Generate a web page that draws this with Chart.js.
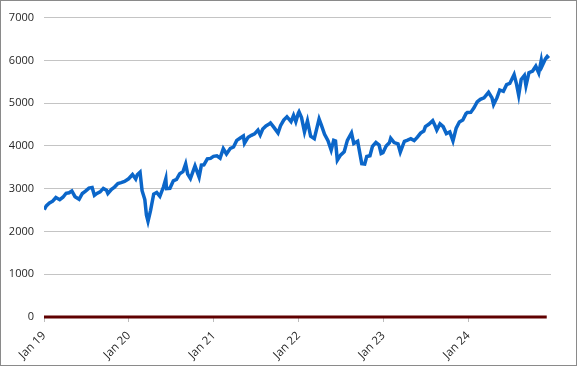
<!DOCTYPE html>
<html>
<head>
<meta charset="utf-8">
<script src="https://cdn.jsdelivr.net/npm/chart.js@4/dist/chart.umd.min.js"></script>
<style>
  html, body { margin: 0; padding: 0; background: #fff; }
  #wrap { width: 575px; height: 364px; border: 1px solid #8a8a8a; position: relative; }
</style>
</head>
<body>
<div id="wrap"><canvas id="chart" width="575" height="364"></canvas></div>
<script>
// Index level (roughly every two weeks, extra points at turns)
const dates = [
  '2019-01-02','2019-01-11','2019-01-25','2019-02-08','2019-02-22','2019-03-08','2019-03-22','2019-04-05','2019-04-18','2019-04-30',
  '2019-05-13','2019-05-31','2019-06-14','2019-06-28','2019-07-12','2019-07-26','2019-08-05','2019-08-16','2019-08-30','2019-09-13',
  '2019-09-27','2019-10-02','2019-10-18','2019-10-31','2019-11-15','2019-11-29','2019-12-13','2019-12-31',
  '2020-01-17','2020-01-31','2020-02-07','2020-02-19','2020-02-28','2020-03-09','2020-03-16','2020-03-23','2020-04-03','2020-04-17',
  '2020-04-30','2020-05-13','2020-05-29','2020-06-08','2020-06-11','2020-06-26','2020-07-10','2020-07-24','2020-08-07','2020-08-21',
  '2020-09-02','2020-09-11','2020-09-23','2020-10-12','2020-10-30','2020-11-09','2020-11-20','2020-12-04','2020-12-18','2020-12-31',
  '2021-01-15','2021-01-29','2021-02-12','2021-02-26','2021-03-12','2021-03-26','2021-04-09','2021-04-23','2021-05-07','2021-05-12',
  '2021-05-28','2021-06-11','2021-06-25','2021-07-09','2021-07-19','2021-07-30','2021-08-13','2021-08-27','2021-09-02','2021-09-17',
  '2021-10-04','2021-10-15','2021-10-29','2021-11-12','2021-11-30','2021-12-10','2021-12-20','2021-12-31',
  '2022-01-03','2022-01-14','2022-01-27','2022-02-09','2022-02-23','2022-03-08','2022-03-29','2022-04-08','2022-04-22','2022-05-06',
  '2022-05-20','2022-05-31','2022-06-08','2022-06-16','2022-06-30','2022-07-15','2022-07-29','2022-08-16','2022-08-26','2022-09-12',
  '2022-09-30','2022-10-12','2022-10-21','2022-11-04','2022-11-15','2022-11-30','2022-12-13','2022-12-22','2022-12-30',
  '2023-01-13','2023-01-27','2023-02-02','2023-02-17','2023-03-03','2023-03-13','2023-03-31','2023-04-14','2023-04-28','2023-05-12',
  '2023-05-26','2023-06-09','2023-06-23','2023-06-30','2023-07-14','2023-07-31','2023-08-11','2023-08-18','2023-09-01','2023-09-15',
  '2023-09-29','2023-10-13','2023-10-27','2023-11-10','2023-11-24','2023-12-08','2023-12-22','2023-12-28',
  '2024-01-12','2024-01-26','2024-02-09','2024-02-23','2024-03-08','2024-03-28','2024-04-12','2024-04-19','2024-05-03','2024-05-15',
  '2024-05-31','2024-06-14','2024-06-28','2024-07-16','2024-07-26','2024-08-05','2024-08-16','2024-08-30','2024-09-06','2024-09-19',
  '2024-10-04','2024-10-18','2024-10-31','2024-11-11','2024-11-15','2024-11-29','2024-12-06','2024-12-13'
];

const levels = [
  2510, 2596, 2665, 2708, 2793, 2743, 2800, 2893, 2905, 2946,
  2812, 2752, 2887, 2942, 3014, 3026, 2845, 2889, 2926, 3007,
  2962, 2887, 2986, 3038, 3120, 3141, 3169, 3231,
  3330, 3226, 3328, 3386, 2954, 2747, 2386, 2237, 2489, 2875,
  2912, 2820, 3044, 3232, 3002, 3009, 3185, 3216, 3351, 3397,
  3580, 3341, 3237, 3534, 3270, 3550, 3557, 3699, 3709, 3756,
  3768, 3714, 3934, 3811, 3943, 3975, 4129, 4180, 4233, 4063,
  4204, 4247, 4281, 4370, 4258, 4395, 4468, 4509, 4537, 4433,
  4300, 4471, 4605, 4682, 4567, 4712, 4568, 4766,
  4796, 4663, 4326, 4587, 4225, 4170, 4632, 4488, 4272, 4123,
  3901, 4132, 4115, 3667, 3785, 3863, 4130, 4305, 4058, 4110,
  3586, 3577, 3752, 3771, 3992, 4080, 4019, 3822, 3840,
  3999, 4071, 4179, 4079, 4046, 3856, 4109, 4137, 4169, 4124,
  4205, 4299, 4348, 4450, 4505, 4589, 4464, 4370, 4515, 4450,
  4288, 4327, 4117, 4415, 4559, 4604, 4754, 4783,
  4784, 4891, 5027, 5088, 5124, 5254, 5123, 4967, 5128, 5308,
  5277, 5431, 5460, 5667, 5459, 5186, 5554, 5648, 5408, 5713,
  5751, 5864, 5705, 6001, 5870, 6032, 6090, 6051
];

// the dark red zero series (runs to mid-Dec 2024)
const zeroDates = ['2019-01-01', '2024-12-04'];
const zeroLevels = [0, 0];

const yearLabels = ['Jan 19', 'Jan 20', 'Jan 21', 'Jan 22', 'Jan 23', 'Jan 24'];

// months since Jan 2019
function toMonths(d) {
  const [y, m, day] = d.split('-').map(Number);
  return (y - 2019) * 12 + (m - 1) + (day - 1) / 31;
}

const points = dates.map((d, i) => ({ x: toMonths(d), y: levels[i] }));
const zeroPoints = zeroDates.map((d, i) => ({ x: toMonths(d), y: zeroLevels[i] }));

const ctx = document.getElementById('chart').getContext('2d');
new Chart(ctx, {
  type: 'line',
  data: {
    datasets: [
      {
        data: zeroPoints,
        borderColor: '#600000',
        borderWidth: 3,
        borderCapStyle: 'butt',
        pointRadius: 0,
        fill: false,
        clip: 6,
      },
      {
        data: points,
        borderColor: '#0b66c9',
        borderWidth: 3.5,
        pointRadius: 0,
        tension: 0,
        fill: false,
      },
    ],
  },
  options: {
    responsive: false,
    animation: false,
    layout: { padding: { left: 0, right: 25, top: 13, bottom: 0 } },
    plugins: { legend: { display: false }, tooltip: { enabled: false } },
    scales: {
      x: {
        type: 'linear',
        min: 0,
        max: 71.7,
        afterFit: s => { s.height = 48; },
        border: { display: false },
        grid: { drawOnChartArea: false, drawTicks: true, tickLength: 5, color: '#bdbdbd' },
        ticks: {
          stepSize: 12,
          autoSkip: false,
          minRotation: 45,
          maxRotation: 45,
          padding: 7,
          color: '#262626',
          font: { family: 'Open Sans', size: 11.5 },
          callback: v => yearLabels[v / 12] ?? '',
        },
        afterBuildTicks: s => { s.ticks = yearLabels.map((_, i) => ({ value: i * 12 })); },
      },
      y: {
        min: 0,
        max: 7000,
        afterFit: s => { s.width = 43; },
        border: { display: false },
        grid: {
          drawTicks: false,
          color: c => c.tick.value === 0 ? 'rgba(0,0,0,0)' : '#c4c4c4',
          lineWidth: 1,
        },
        ticks: {
          stepSize: 1000,
          padding: 10,
          color: '#262626',
          font: { family: 'Open Sans', size: 11 },
          callback: v => String(v),
        },
      },
    },
  },
});
</script>
</body>
</html>
